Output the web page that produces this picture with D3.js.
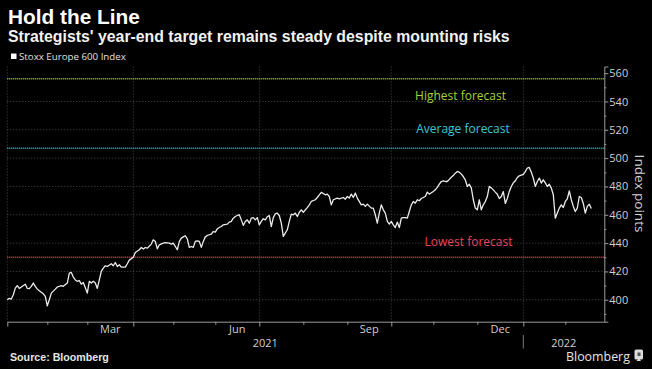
<!DOCTYPE html>
<html><head><meta charset="utf-8">
<script src="https://cdn.jsdelivr.net/npm/d3@7"></script>
<style>
html,body{margin:0;padding:0;background:#000;}
svg{display:block;}
</style></head>
<body>
<svg id="chart" width="652" height="369"></svg>
<script>
// ---------------- DATA ----------------
const seriesName = "Stoxx Europe 600 Index";
const holidays = ["2021-01-01", "2021-04-02", "2021-04-05"];
const calendarStart = "2021-01-01";
const calendarEnd = "2022-02-28";

const closeDates = [
  "2021-01-04","2021-01-05","2021-01-06","2021-01-07","2021-01-08","2021-01-11","2021-01-12","2021-01-13","2021-01-15","2021-01-18","2021-01-19","2021-01-20","2021-01-21","2021-01-22","2021-01-25","2021-01-26","2021-01-28","2021-01-29",
  "2021-02-01","2021-02-02","2021-02-03","2021-02-05","2021-02-08","2021-02-10","2021-02-11","2021-02-15","2021-02-16","2021-02-17","2021-02-18","2021-02-19","2021-02-22","2021-02-23","2021-02-24","2021-02-25",
  "2021-03-01","2021-03-02","2021-03-03","2021-03-04","2021-03-05","2021-03-08","2021-03-09","2021-03-10","2021-03-11","2021-03-12","2021-03-15","2021-03-17","2021-03-18","2021-03-19","2021-03-22","2021-03-23","2021-03-24","2021-03-26","2021-03-29","2021-03-30",
  "2021-04-01","2021-04-06","2021-04-08","2021-04-09","2021-04-12","2021-04-13","2021-04-14","2021-04-16","2021-04-19","2021-04-20","2021-04-21","2021-04-22","2021-04-26","2021-04-27","2021-04-29","2021-04-30",
  "2021-05-03","2021-05-05","2021-05-06","2021-05-07","2021-05-10","2021-05-11","2021-05-12","2021-05-13","2021-05-14","2021-05-17","2021-05-18","2021-05-19","2021-05-20","2021-05-21","2021-05-24","2021-05-25","2021-05-26","2021-05-27","2021-05-28","2021-05-31",
  "2021-06-01","2021-06-02","2021-06-03","2021-06-04","2021-06-07","2021-06-09","2021-06-10","2021-06-11","2021-06-14","2021-06-15","2021-06-16","2021-06-17","2021-06-18","2021-06-21","2021-06-22","2021-06-23","2021-06-24","2021-06-25","2021-06-28","2021-06-29","2021-06-30",
  "2021-07-01","2021-07-02","2021-07-05","2021-07-06","2021-07-07","2021-07-08","2021-07-09","2021-07-12","2021-07-13","2021-07-14","2021-07-15","2021-07-16","2021-07-19","2021-07-21","2021-07-22","2021-07-23","2021-07-26","2021-07-27","2021-07-28","2021-07-29","2021-07-30",
  "2021-08-02","2021-08-04","2021-08-05","2021-08-06","2021-08-10","2021-08-11","2021-08-12","2021-08-13","2021-08-17","2021-08-18","2021-08-19","2021-08-20","2021-08-23","2021-08-25","2021-08-26","2021-08-30","2021-08-31",
  "2021-09-01","2021-09-02","2021-09-03","2021-09-06","2021-09-07","2021-09-08","2021-09-10","2021-09-13","2021-09-14","2021-09-15","2021-09-17","2021-09-20","2021-09-21","2021-09-22","2021-09-23","2021-09-24","2021-09-27","2021-09-28","2021-09-29","2021-09-30",
  "2021-10-01","2021-10-04","2021-10-05","2021-10-06","2021-10-07","2021-10-08","2021-10-11","2021-10-12","2021-10-13","2021-10-14","2021-10-15","2021-10-18","2021-10-19","2021-10-20","2021-10-21","2021-10-22","2021-10-25","2021-10-26","2021-10-27","2021-10-28","2021-10-29",
  "2021-11-01","2021-11-02","2021-11-03","2021-11-04","2021-11-05","2021-11-08","2021-11-09","2021-11-10","2021-11-11","2021-11-12","2021-11-15","2021-11-16","2021-11-17","2021-11-18","2021-11-19","2021-11-22","2021-11-23","2021-11-24","2021-11-25","2021-11-26","2021-11-29","2021-11-30",
  "2021-12-01","2021-12-02","2021-12-03","2021-12-06","2021-12-07","2021-12-08","2021-12-09","2021-12-10","2021-12-13","2021-12-14","2021-12-15","2021-12-16","2021-12-17","2021-12-20","2021-12-21","2021-12-22","2021-12-23","2021-12-24","2021-12-27","2021-12-28","2021-12-29","2021-12-30","2021-12-31",
  "2022-01-03","2022-01-04","2022-01-05","2022-01-06","2022-01-07","2022-01-10","2022-01-11","2022-01-12","2022-01-13","2022-01-14","2022-01-17","2022-01-18","2022-01-19","2022-01-20","2022-01-21","2022-01-24","2022-01-25","2022-01-26","2022-01-27","2022-01-28","2022-01-31",
  "2022-02-01","2022-02-02","2022-02-03","2022-02-04","2022-02-07","2022-02-08","2022-02-09","2022-02-10","2022-02-11","2022-02-14","2022-02-15","2022-02-16","2022-02-17","2022-02-18"
];
const closeValues = [
  400.0,401.0,400.5,403.5,408.2,410.0,408.0,409.0,411.0,408.0,407.8,409.5,411.8,409.5,407.5,406.3,404.2,402.4,
  395.7,400.0,404.7,407.5,409.0,410.0,409.5,411.8,418.8,419.3,416.0,414.0,413.0,413.6,411.0,412.2,
  404.7,413.0,411.8,413.0,411.8,408.0,414.0,420.0,422.3,424.0,423.5,425.4,424.0,426.3,423.5,424.7,423.0,423.0,425.4,428.0,
  430.0,433.4,435.3,436.9,435.8,436.9,436.4,439.3,442.3,441.2,436.0,438.8,440.0,440.4,440.0,439.3,
  440.0,435.3,441.0,443.5,444.4,445.2,443.0,437.0,437.6,437.0,441.2,441.6,441.2,437.0,441.2,444.4,445.4,445.9,446.4,448.2,
  447.7,450.1,451.0,451.7,452.9,453.4,454.8,455.3,457.6,458.8,459.5,460.0,456.4,452.5,455.3,456.4,454.1,457.6,458.0,456.4,458.0,
  452.9,455.3,457.2,456.4,458.6,459.5,451.7,458.0,460.7,461.2,459.5,454.1,444.7,449.4,455.3,460.5,460.0,461.2,458.8,461.8,463.5,
  461.8,465.1,467.0,469.4,470.6,472.2,474.1,475.8,474.1,474.6,472.9,467.0,470.6,471.8,471.3,472.2,471.0,
  472.9,471.8,474.6,472.2,475.3,471.8,467.0,467.5,465.9,467.5,464.7,464.7,460.0,454.1,461.2,467.0,463.5,461.2,455.3,453.4,
  455.3,452.9,451.0,454.8,451.0,457.6,458.0,458.0,457.6,462.3,467.0,469.4,468.2,470.6,469.9,471.5,472.2,472.9,476.0,474.6,475.5,
  476.5,477.6,479.3,481.6,483.5,484.0,483.5,483.5,485.0,486.5,487.7,489.4,490.6,490.0,488.7,487.0,484.7,480.0,481.6,479.0,470.6,464.7,
  463.5,470.6,463.5,467.0,469.4,472.9,480.0,479.0,477.6,476.0,474.5,471.5,472.9,476.4,468.0,471.5,476.5,480.0,482.5,484.0,486.3,487.5,488.0,
  488.5,490.5,493.0,493.4,490.0,485.9,480.0,483.5,485.9,482.4,484.7,482.5,480.0,481.6,478.8,474.1,457.6,461.2,464.7,467.0,465.1,
  469.4,471.3,476.9,470.6,465.9,462.3,464.7,472.9,472.2,468.0,461.2,465.9,467.5,464.5
];

const forecastNames = ["Highest forecast", "Average forecast", "Lowest forecast"];
const forecastValues = [556, 507, 430];

const yDomain = [384.5, 564.7];
const yMajorTicks = [400, 420, 440, 460, 480, 500, 520, 540, 560];
const yMinorTicks = [390, 410, 430, 450, 470, 490, 510, 530, 550];
const yGridValues = [400, 420, 440, 460, 480, 500, 520, 540];
const monthLabels = ["Mar", "Jun", "Sep", "Dec"];
const yearLabels = ["2021", "2022"];
const yAxisTitle = "Index points";
const titleText = "Hold the Line";
const subtitleText = "Strategists' year-end target remains steady despite mounting risks";
const sourceText = "Source: Bloomberg";
const brandText = "Bloomberg";

// ---------------- STYLE ----------------
const forecastColors = ["#a6d23a", "#3cc6d2", "#e8475f"];
const forecastLabelPos = [
  {cx: 460.5, base: 99.5},
  {cx: 463, base: 132.5},
  {cx: 468.5, base: 246}
];
const axisFont = "'Open Sans', 'Noto Sans', sans-serif";
const titleFont = "'Liberation Sans', Arial, sans-serif";

// ---------------- BUILD ----------------
const svg = d3.select("#chart");
svg.append("rect").attr("width", 652).attr("height", 369).attr("fill", "#000");

const parse = d3.timeParse("%Y-%m-%d");
const fmt = d3.timeFormat("%Y-%m-%d");
const holidaySet = new Set(holidays);
const tradingDays = d3.timeDay.range(parse(calendarStart), d3.timeDay.offset(parse(calendarEnd), 1))
  .filter(d => d.getDay() !== 0 && d.getDay() !== 6 && !holidaySet.has(fmt(d)));
const dayIndex = new Map(tradingDays.map((d, i) => [fmt(d), i]));

const data = closeDates.map((d, i) => ({i: dayIndex.get(d), v: closeValues[i]}));

const L = 7.3, R = 604.3, T = 66.5, B = 321.7;
const x = d3.scaleLinear().domain([0, tradingDays.length - 0.5]).range([L, R]);
const y = d3.scaleLinear().domain(yDomain).range([B, T]);

// month starts
const monthStarts = [];
tradingDays.forEach((d, i) => {
  if (i === 0 || d.getMonth() !== tradingDays[i - 1].getMonth()) monthStarts.push({i, d});
});
const quarterStarts = monthStarts.filter(m => m.d.getMonth() % 3 === 0);

// gridlines
const grid = svg.append("g");
grid.selectAll("line.h").data(yGridValues).join("line")
  .attr("x1", L).attr("x2", R)
  .attr("y1", d => y(d)).attr("y2", d => y(d))
  .attr("stroke", "#4a4a4a").attr("stroke-width", 1).attr("stroke-dasharray", "1,2");
grid.selectAll("line.v").data(quarterStarts).join("line")
  .attr("x1", d => x(d.i)).attr("x2", d => x(d.i))
  .attr("y1", T).attr("y2", B)
  .attr("stroke", "#4a4a4a").attr("stroke-width", 1).attr("stroke-dasharray", "1,2");

// forecast lines
const fc = svg.append("g");
fc.selectAll("line").data(forecastValues).join("line")
  .attr("x1", L).attr("x2", R)
  .attr("y1", d => y(d)).attr("y2", d => y(d))
  .attr("stroke", (d, i) => forecastColors[i]).attr("stroke-width", 1.4)
  .attr("stroke-dasharray", "1,1");
fc.selectAll("text").data(forecastNames).join("text")
  .attr("x", (d, i) => forecastLabelPos[i].cx)
  .attr("y", (d, i) => forecastLabelPos[i].base)
  .attr("text-anchor", "middle")
  .attr("font-family", axisFont).attr("font-size", 12)
  .attr("fill", (d, i) => forecastColors[i])
  .text(d => d);

// line
const line = d3.line().x(d => x(d.i)).y(d => y(d.v)).curve(d3.curveLinear);
svg.append("path").datum(data)
  .attr("d", line).attr("fill", "none")
  .attr("stroke", "#ececec").attr("stroke-width", 1.3)
  .attr("stroke-linejoin", "round");

// right axis
const axisColor = "#9a9a9a";
const yMinor = svg.append("g").attr("transform", `translate(${R},0)`)
  .call(d3.axisRight(y).tickValues(yMinorTicks).tickSize(2).tickFormat(""));
const yMajor = svg.append("g").attr("transform", `translate(${R},0)`)
  .call(d3.axisRight(y).tickValues(yMajorTicks).tickSize(4).tickPadding(1));
[yMinor, yMajor].forEach(g => {
  g.select(".domain").attr("stroke", axisColor);
  g.selectAll(".tick line").attr("stroke", axisColor);
});
yMajor.selectAll(".tick text").attr("fill", "#cfcfcf")
  .attr("font-family", axisFont).attr("font-size", 11);
yMinor.select(".domain").remove();

svg.append("text")
  .attr("transform", `translate(634.5,193.5) rotate(90)`)
  .attr("text-anchor", "middle")
  .attr("font-family", axisFont).attr("font-size", 13.5)
  .attr("fill", "#cfcfcf")
  .text(yAxisTitle);

// bottom axis
const xAxisG = svg.append("g").attr("transform", `translate(0,${B})`)
  .call(d3.axisBottom(x).tickValues(monthStarts.map(m => m.i)).tickSize(3).tickSizeOuter(0).tickFormat(""));
xAxisG.select(".domain").attr("stroke", axisColor);
xAxisG.selectAll(".tick line").attr("stroke", axisColor)
  .attr("y2", d => quarterStarts.some(q => q.i === d) ? 5 : 3);

// month labels centred in month intervals
const labelMonths = monthLabels.map(lbl => {
  const k = monthStarts.findIndex(m => d3.timeFormat("%b")(m.d) === lbl && m.d.getFullYear() === 2021);
  const a = monthStarts[k].i, b = monthStarts[k + 1].i;
  return {lbl, c: (a + b) / 2};
});
svg.selectAll("text.month").data(labelMonths).join("text")
  .attr("class", "month")
  .attr("x", d => x(d.c)).attr("y", 332.5)
  .attr("text-anchor", "middle")
  .attr("font-family", axisFont).attr("font-size", 11)
  .attr("fill", "#cfcfcf").text(d => d.lbl);

const yearStart2022 = monthStarts.find(m => m.d.getFullYear() === 2022).i;
const yearCenters = [(0 + yearStart2022) / 2, (yearStart2022 + tradingDays.length - 0.5) / 2];
svg.selectAll("text.year").data(yearLabels).join("text")
  .attr("class", "year")
  .attr("x", (d, i) => x(yearCenters[i])).attr("y", 346.5)
  .attr("text-anchor", "middle")
  .attr("font-family", axisFont).attr("font-size", 11)
  .attr("fill", "#cfcfcf").text(d => d);
svg.append("line")
  .attr("x1", x(yearStart2022)).attr("x2", x(yearStart2022))
  .attr("y1", 335).attr("y2", 348.5)
  .attr("stroke", "#777").attr("stroke-width", 1);

// texts
function fit(sel, width) {
  const len = sel.node().getComputedTextLength();
  const fs = parseFloat(sel.attr("font-size"));
  sel.attr("font-size", fs * width / len);
}
const title = svg.append("text").attr("x", 8).attr("y", 24)
  .attr("font-family", titleFont).attr("font-weight", "bold").attr("font-size", 20)
  .attr("fill", "#ffffff").text(titleText);
fit(title, 132);
const subtitle = svg.append("text").attr("x", 8).attr("y", 41.5)
  .attr("font-family", titleFont).attr("font-weight", "bold").attr("font-size", 14)
  .attr("fill", "#f2f2f2").text(subtitleText);
fit(subtitle, 502);

svg.append("rect").attr("x", 11).attr("y", 53.5).attr("width", 5.5).attr("height", 5.5).attr("fill", "#fff");
const leg = svg.append("text").attr("x", 19).attr("y", 59.5)
  .attr("font-family", axisFont).attr("font-size", 9.5)
  .attr("fill", "#e0e0e0").text(seriesName);
fit(leg, 107);

const src = svg.append("text").attr("x", 10).attr("y", 361)
  .attr("font-family", titleFont).attr("font-weight", "bold").attr("font-size", 10)
  .attr("fill", "#e6e6e6").text(sourceText);
fit(src, 99);

const brand = svg.append("text").attr("x", 566).attr("y", 360.5)
  .attr("font-family", axisFont).attr("font-size", 13)
  .attr("fill", "#e6e6e6").text(brandText);
fit(brand, 64);
svg.append("rect").attr("x", 634.5).attr("y", 349.5).attr("width", 8.5).attr("height", 10)
  .attr("rx", 1.5).attr("fill", "#dcdcdc");
svg.append("path").attr("d", "M636.5,361 L639,358 L641,361 Z").attr("fill", "#dcdcdc");
svg.append("rect").attr("x", 637.5).attr("y", 352.5).attr("width", 3).attr("height", 3.5).attr("fill", "#555");
</script>
</body></html>
